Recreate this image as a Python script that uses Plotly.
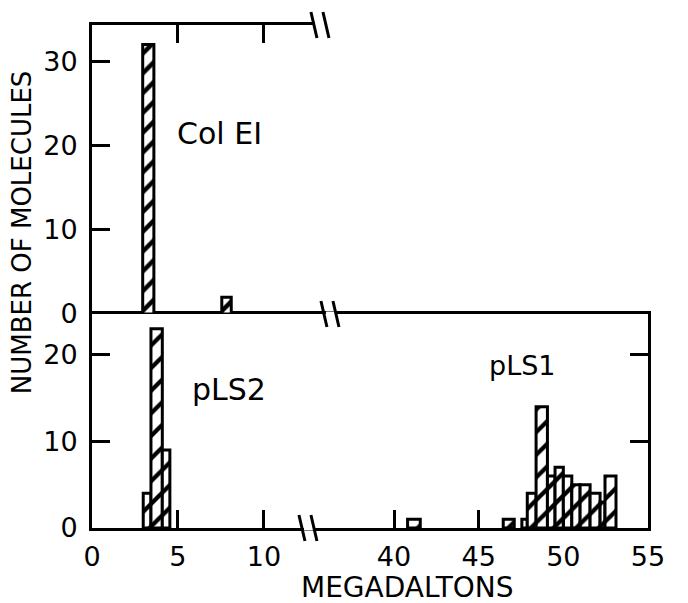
import plotly.graph_objects as go

# ---------------- data ----------------
# Col EI (top panel): bar left/right edges in megadaltons and counts
colei_left = [2.95, 7.55]
colei_right = [3.60, 8.10]
colei_count = [32, 2]

# pLS2 (bottom panel, low-mass part)
pls2_left = [2.98, 3.43, 4.09]
pls2_right = [3.43, 4.09, 4.53]
pls2_count = [4, 23, 9]

# pLS1 (bottom panel, high-mass part)
pls1_left = [40.80, 46.45, 47.55, 47.87, 48.39, 49.06, 49.51, 50.00, 50.50, 50.99, 51.58, 52.17, 52.46]
pls1_right = [41.55, 47.10, 47.87, 48.39, 49.06, 49.51, 50.00, 50.50, 50.99, 51.58, 52.17, 52.46, 53.11]
pls1_count = [1, 1, 1, 4, 14, 6, 7, 6, 5, 5, 4, 3, 6]

x_left_range = [0, 12.97]
x_right_range = [35.33, 55]
x_left_ticks = [0, 5, 10]
x_right_ticks = [40, 45, 50, 55]
y_top_range = [0, 34.3]
y_top_ticks = [0, 10, 20, 30]
y_bot_range = [0, 24.7]
y_bot_ticks = [0, 10, 20]

# ---------------- figure ----------------
FONT = "DejaVu Sans"
split = 0.401      # horizontal break position (paper)
mid = 0.4254       # vertical split between panels (paper)


def centers(l, r):
    return [(a + b) / 2 for a, b in zip(l, r)]


def widths(l, r):
    return [b - a for a, b in zip(l, r)]


def bar_style(size=16, solidity=0.28):
    return dict(color="white",
                line=dict(color="black", width=3),
                pattern=dict(shape="/", fgcolor="black", bgcolor="white",
                             fgopacity=1, size=size, solidity=solidity))


fig = go.Figure()
fig.add_trace(go.Bar(x=centers(colei_left, colei_right), y=colei_count,
                     width=widths(colei_left, colei_right),
                     marker=bar_style(14, 0.32), xaxis="x3", yaxis="y3",
                     showlegend=False))
fig.add_trace(go.Bar(x=centers(pls2_left, pls2_right), y=pls2_count,
                     width=widths(pls2_left, pls2_right),
                     marker=bar_style(16, 0.27), xaxis="x", yaxis="y",
                     showlegend=False))
fig.add_trace(go.Bar(x=centers(pls1_left, pls1_right), y=pls1_count,
                     width=widths(pls1_left, pls1_right),
                     marker=bar_style(16, 0.27), xaxis="x2", yaxis="y2",
                     showlegend=False))

axis_common = dict(showline=True, linecolor="black", linewidth=3,
                   ticks="inside", ticklen=18, tickwidth=3, tickcolor="black",
                   showgrid=False, zeroline=False,
                   tickfont=dict(family=FONT, size=27, color="black"))

fig.update_layout(
    width=680, height=595,
    margin=dict(l=84, r=40, t=17, b=75),
    paper_bgcolor="white", plot_bgcolor="white",
    barmode="overlay",
    # bottom row
    xaxis=dict(domain=[0, split], anchor="y", range=x_left_range,
               tickvals=x_left_ticks, mirror=True, ticklabelstandoff=3,
               **axis_common),
    xaxis2=dict(domain=[split, 1], anchor="y2", range=x_right_range,
                tickvals=x_right_ticks, mirror=True, ticklabelstandoff=3,
                **axis_common),
    yaxis=dict(domain=[0, mid], anchor="x", range=y_bot_range,
               tickvals=y_bot_ticks, ticklabelstandoff=6, **axis_common),
    yaxis2=dict(domain=[0, mid], anchor="x2", range=y_bot_range, side="right",
                tickvals=y_bot_ticks[1:], showticklabels=False, **axis_common),
    # top row
    xaxis3=dict(domain=[0, split], anchor="y3", range=x_left_range, side="top",
                tickvals=x_left_ticks[1:], mirror=False, showticklabels=False,
                **axis_common),
    xaxis4=dict(domain=[split, 1], anchor="y4", range=x_right_range, side="top",
                tickvals=x_right_ticks[:-1], mirror=False, showticklabels=False,
                **axis_common),
    yaxis3=dict(domain=[mid, 1], anchor="x3", range=y_top_range,
                tickvals=y_top_ticks, ticklabelstandoff=6, **axis_common),
    yaxis4=dict(domain=[mid, 1], anchor="x4", range=y_top_range, side="right",
                tickvals=y_top_ticks[1:], showticklabels=False, **axis_common),
)

# labels
fig.add_annotation(text="Col EI", x=7.44, y=21.4, xref="x3", yref="y3",
                   showarrow=False, font=dict(family=FONT, size=30, color="black"))
fig.add_annotation(text="pLS2", x=7.97, y=16.0, xref="x", yref="y",
                   showarrow=False, font=dict(family=FONT, size=30, color="black"))
fig.add_annotation(text="pLS1", x=47.6, y=18.8, xref="x2", yref="y2",
                   showarrow=False, font=dict(family=FONT, size=27, color="black"))
fig.add_annotation(text="NUMBER OF MOLECULES", x=0, y=0.588, xref="paper", yref="paper",
                   xshift=-70, textangle=-90, showarrow=False, xanchor="center",
                   yanchor="middle", font=dict(family=FONT, size=26, color="black"))
fig.add_annotation(text="MEGADALTONS", x=0.568, y=0, xref="paper", yref="paper",
                   yshift=-59, showarrow=False, yanchor="middle",
                   font=dict(family=FONT, size=28, color="black"))

# axis-break marks "\\" on the three horizontal lines
for yanc, dx in [(1, 5), (mid, 15), (0, -7)]:
    # gap in the axis line between the strokes
    fig.add_shape(type="line", xref="paper", yref="paper",
                  xsizemode="pixel", ysizemode="pixel",
                  xanchor=split, yanchor=yanc,
                  x0=dx - 4, x1=dx + 5, y0=0, y1=0,
                  line=dict(color="white", width=5))
    for off in (-6, 6):
        fig.add_shape(type="line", xref="paper", yref="paper",
                      xsizemode="pixel", ysizemode="pixel",
                      xanchor=split, yanchor=yanc,
                      x0=dx + off - 3, x1=dx + off + 3, y0=13, y1=-13,
                      line=dict(color="black", width=3))

fig.write_html("out.html")
